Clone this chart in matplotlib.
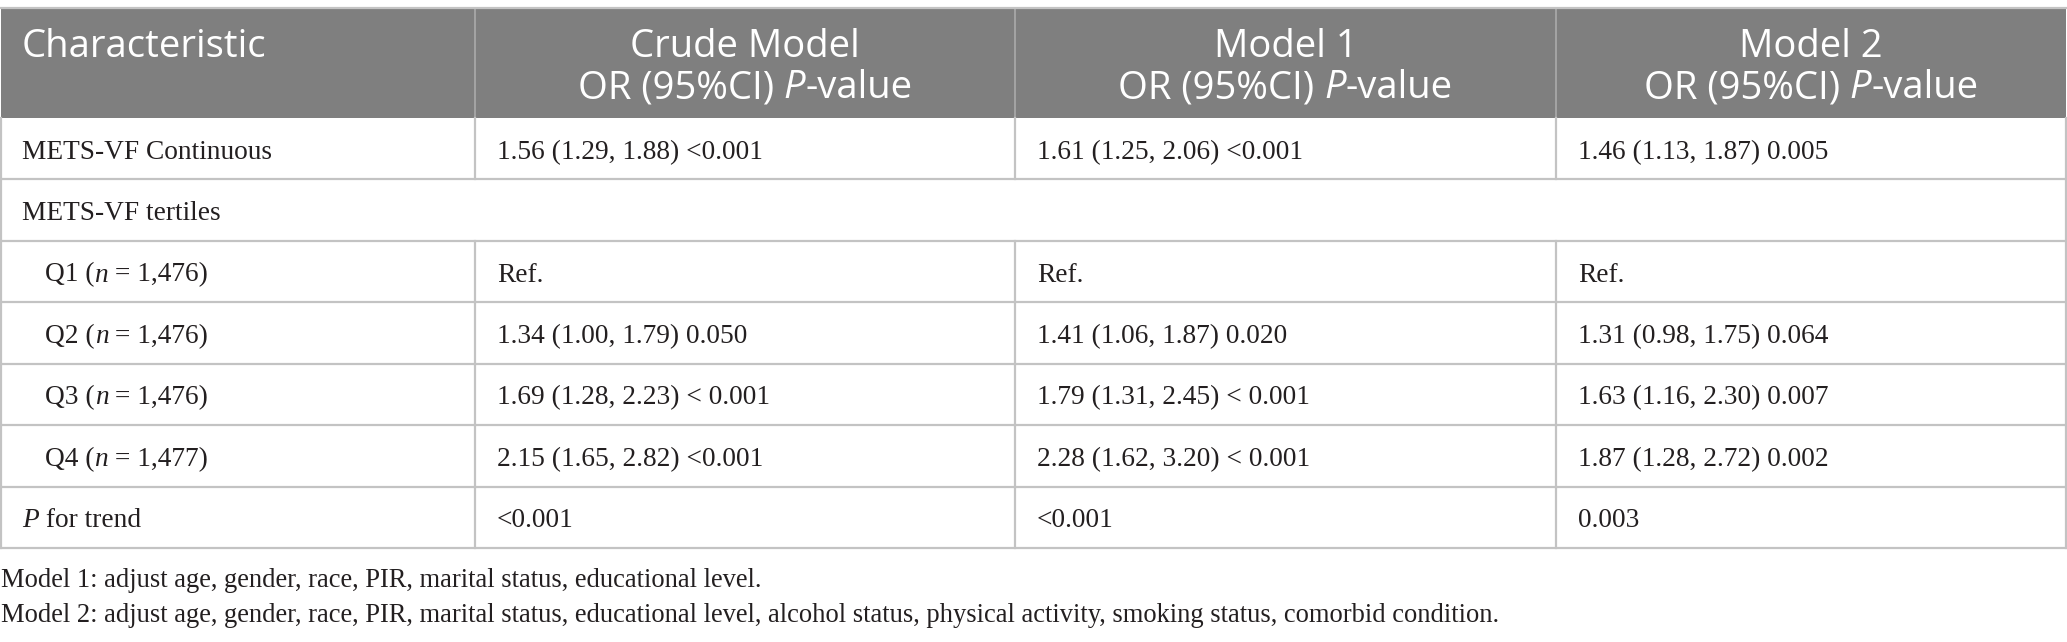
import matplotlib.pyplot as plt
from matplotlib.patches import Rectangle

W, H = 2067, 642

# table content
models = ["Crude Model", "Model 1", "Model 2"]
quartiles = ["Q1", "Q2", "Q3", "Q4"]
quartile_n = ["1,476", "1,476", "1,476", "1,477"]
crude = ["1.56 (1.29, 1.88) <0.001", None, "Ref.", "1.34 (1.00, 1.79) 0.050",
         "1.69 (1.28, 2.23) < 0.001", "2.15 (1.65, 2.82) <0.001", "<0.001"]
model1 = ["1.61 (1.25, 2.06) <0.001", None, "Ref.", "1.41 (1.06, 1.87) 0.020",
          "1.79 (1.31, 2.45) < 0.001", "2.28 (1.62, 3.20) < 0.001", "<0.001"]
model2 = ["1.46 (1.13, 1.87) 0.005", None, "Ref.", "1.31 (0.98, 1.75) 0.064",
          "1.63 (1.16, 2.30) 0.007", "1.87 (1.28, 2.72) 0.002", "0.003"]
notes = ["Model 1: adjust age, gender, race, PIR, marital status, educational level.",
         "Model 2: adjust age, gender, race, PIR, marital status, educational level, "
         "alcohol status, physical activity, smoking status, comorbid condition."]

# row labels as (text, style) pieces, indent flag
row_labels = [([("METS-VF Continuous", "normal")], False),
              ([("METS-VF tertiles", "normal")], False)]
for q, n in zip(quartiles, quartile_n):
    row_labels.append(([(q + " (", "normal"), ("n", "italic"), (" = " + n + ")", "normal")], True))
row_labels.append(([("P", "italic"), (" for trend", "normal")], False))

# layout
col_x = [1, 475, 1015, 1556, 2066]
top, head_bot = 8, 118
row_h = (548 - 118) / 7
grey = "#7f7f7f"
line_c = "#c3c3c3"
serif = "Liberation Serif"
sans = "Open Sans"

fig = plt.figure(figsize=(W / 100, H / 100), dpi=100)
ax = fig.add_axes([0, 0, 1, 1])
ax.set_xlim(0, W)
ax.set_ylim(H, 0)
ax.axis("off")
renderer = fig.canvas.get_renderer()


def width(s, **kw):
    # measure with guard characters so edge spaces count
    a = ax.text(0, 0, "|" + s + "|", **kw)
    b = ax.text(0, 0, "||", **kw)
    w = a.get_window_extent(renderer).width - b.get_window_extent(renderer).width
    a.remove()
    b.remove()
    return w


def put(x, y, segs, ha="left", **kw):
    ws = [width(s, fontstyle=st, **kw) for s, st in segs]
    start = x if ha == "left" else x - sum(ws) / 2
    for (s, st), w in zip(segs, ws):
        ax.text(start, y, s, fontstyle=st, va="baseline", ha="left", **kw)
        start += w


# fit font sizes to measured widths in the reference
body_fs = 20 * 266 / width("1.56 (1.29, 1.88) <0.001", family=serif, fontsize=20)
head_fs = 20 * 337 / width("OR (95%CI) P-value", family=sans, fontsize=20)

# header band
ax.add_patch(Rectangle((col_x[0], top), col_x[-1] - col_x[0], head_bot - top,
                       facecolor=grey, edgecolor="none"))
for x in col_x[1:-1]:
    ax.plot([x, x], [top, head_bot], color="#a5a5a5", lw=1.4)
ax.plot([col_x[0], col_x[-1]], [top, top], color=line_c, lw=1.6)

put(22, 57, [("Characteristic", "normal")], family=sans, fontsize=head_fs, color="white")
for i, m in enumerate(models):
    cx = (col_x[i + 1] + col_x[i + 2]) / 2
    put(cx, 57, [(m, "normal")], ha="center", family=sans, fontsize=head_fs, color="white")
    put(cx, 98, [("OR (95%CI) ", "normal"), ("P", "italic"), ("-value", "normal")],
        ha="center", family=sans, fontsize=head_fs, color="white")

# body rows
for r in range(7):
    y0 = head_bot + r * row_h
    y1 = y0 + row_h
    ax.plot([col_x[0], col_x[-1]], [y1, y1], color=line_c, lw=1.6)
    xs = [col_x[0], col_x[-1]] if crude[r] is None else col_x
    for x in xs:
        ax.plot([x, x], [y0, y1], color=line_c, lw=1.6)
    base = y0 + row_h / 2 + 10
    segs, indent = row_labels[r]
    put(col_x[0] + (44 if indent else 21), base, segs, family=serif,
        fontsize=body_fs, color="#231f20")
    for i, vals in enumerate([crude, model1, model2]):
        if vals[r] is not None:
            put(col_x[i + 1] + 22, base, [(vals[r], "normal")], family=serif,
                fontsize=body_fs, color="#231f20")

# footnotes
for k, note in enumerate(notes):
    put(1, 587 + k * 35, [(note, "normal")], family=serif, fontsize=body_fs * 0.97,
        color="#231f20")

fig.savefig("out.png", dpi=100)
